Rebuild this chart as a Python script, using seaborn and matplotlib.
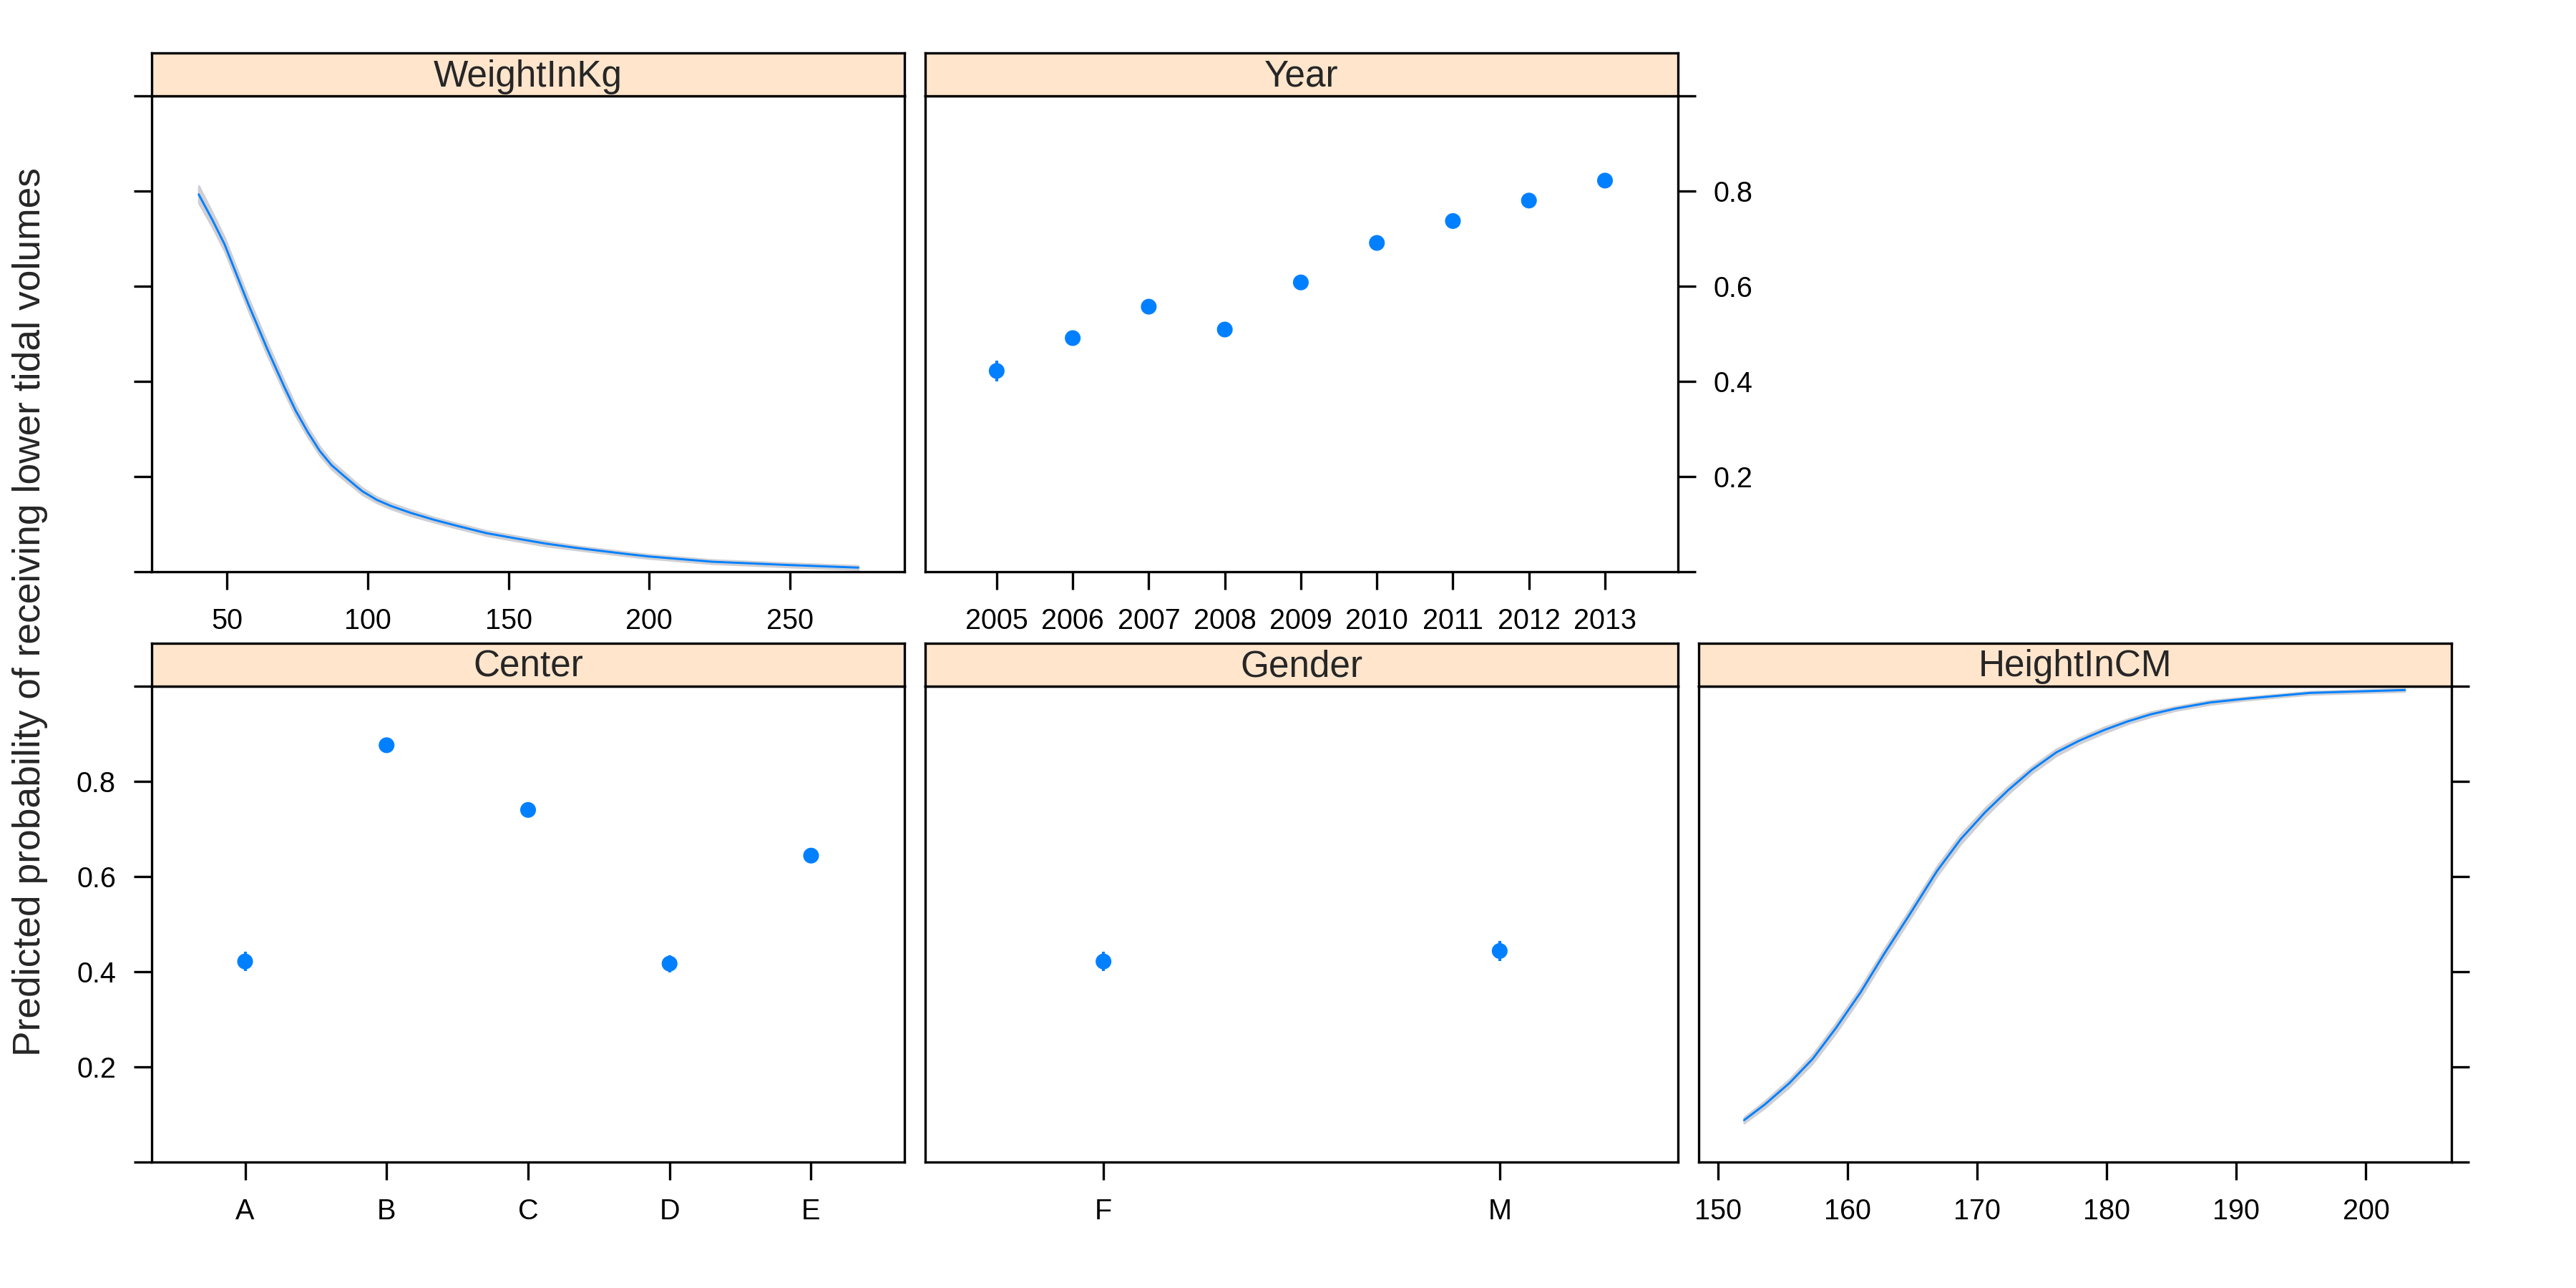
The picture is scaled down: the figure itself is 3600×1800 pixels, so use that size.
import numpy as np
import pandas as pd
import matplotlib
matplotlib.use("Agg")
import matplotlib.pyplot as plt
import seaborn as sns

# ---------------- data ----------------
weight_kg = [39.9, 44.8, 49.1, 53.4, 57.7, 60.0, 64.2, 70.2, 74.4, 78.6, 82.9, 87.1,
             91.4, 95.6, 98.1, 103.2, 108.3, 115.1, 123.6, 132.0, 142.2, 152.6,
             163.4, 174.2, 192.3, 200.0, 222.4, 250.0, 274.3]
weight_prob = [0.793, 0.739, 0.688, 0.624, 0.560, 0.528, 0.469, 0.390, 0.338, 0.294,
               0.254, 0.224, 0.202, 0.181, 0.169, 0.151, 0.138, 0.124, 0.109, 0.096,
               0.081, 0.070, 0.059, 0.050, 0.037, 0.032, 0.021, 0.014, 0.0086]
weight_lo = [0.775, 0.724, 0.674, 0.611, 0.547, 0.515, 0.456, 0.378, 0.327, 0.284,
             0.245, 0.216, 0.194, 0.174, 0.162, 0.145, 0.132, 0.118, 0.104, 0.091,
             0.076, 0.065, 0.054, 0.046, 0.033, 0.028, 0.017, 0.010, 0.0046]
weight_hi = [0.811, 0.754, 0.702, 0.637, 0.573, 0.541, 0.482, 0.402, 0.349, 0.304,
             0.263, 0.232, 0.210, 0.188, 0.176, 0.157, 0.144, 0.130, 0.114, 0.101,
             0.086, 0.075, 0.064, 0.054, 0.041, 0.036, 0.025, 0.018, 0.0126]

years = [2005, 2006, 2007, 2008, 2009, 2010, 2011, 2012, 2013]
year_prob = [0.422, 0.491, 0.557, 0.509, 0.608, 0.691, 0.737, 0.780, 0.822]
year_lo = [0.400, 0.479, 0.546, 0.498, 0.598, 0.681, 0.727, 0.770, 0.812]
year_hi = [0.444, 0.503, 0.568, 0.520, 0.618, 0.701, 0.747, 0.790, 0.832]

centers = ["A", "B", "C", "D", "E"]
center_prob = [0.4215, 0.876, 0.740, 0.417, 0.644]
center_lo = [0.401, 0.866, 0.728, 0.399, 0.629]
center_hi = [0.442, 0.886, 0.752, 0.435, 0.659]

genders = ["F", "M"]
gender_prob = [0.4215, 0.4436]
gender_lo = [0.401, 0.422]
gender_hi = [0.442, 0.465]

height_cm = [152.0, 153.6, 155.5, 157.3, 159.1, 161.0, 162.8, 164.7, 166.9, 168.7,
             170.6, 172.4, 174.2, 176.1, 177.9, 179.8, 181.6, 183.4, 185.3, 188.0,
             190.8, 195.7, 203.0]
height_prob = [0.088, 0.121, 0.166, 0.217, 0.282, 0.357, 0.437, 0.517, 0.612, 0.678,
               0.735, 0.782, 0.824, 0.861, 0.886, 0.908, 0.926, 0.941, 0.953, 0.966,
               0.974, 0.986, 0.992]
height_lo = [0.082, 0.114, 0.158, 0.208, 0.272, 0.347, 0.427, 0.507, 0.602, 0.668,
             0.726, 0.774, 0.817, 0.854, 0.880, 0.902, 0.921, 0.936, 0.949, 0.962,
             0.971, 0.983, 0.989]
height_hi = [0.094, 0.128, 0.174, 0.226, 0.292, 0.367, 0.447, 0.527, 0.622, 0.688,
             0.744, 0.790, 0.831, 0.868, 0.892, 0.914, 0.931, 0.946, 0.957, 0.970,
             0.977, 0.989, 0.995]

y_ticks = [0.0, 0.2, 0.4, 0.6, 0.8, 1.0]
y_ticklabels = ["", "0.2", "0.4", "0.6", "0.8", ""]
weight_ticks = [50, 100, 150, 200, 250]
height_ticks = [150, 160, 170, 180, 190, 200]

ylabel_text = "Predicted probability of receiving lower tidal volumes"

# ---------------- style ----------------
sns.set_style("white")
plt.rcParams["font.family"] = ["Liberation Sans", "DejaVu Sans"]

BLUE = "#0080FF"
BAND = "#CFCFD4"
STRIP = "#FFE5CC"
LW_FRAME = 0.8

fig = plt.figure(figsize=(12, 6), dpi=300)

W = 1052 / 3600
H = 665 / 1800
SH = 60 / 1800
lefts = [212 / 3600, 1293 / 3600, 2374 / 3600]
bottoms = [1 - 799 / 1800, 1 - 1624 / 1800]


def make_panel(col, row, title):
    ax = fig.add_axes([lefts[col], bottoms[row], W, H])
    sax = fig.add_axes([lefts[col], bottoms[row] + H, W, SH])
    sax.set_facecolor(STRIP)
    sax.set_xticks([])
    sax.set_yticks([])
    for sp in sax.spines.values():
        sp.set_color("black")
        sp.set_linewidth(LW_FRAME)
    sax.text(0.5, 0.45, title, ha="center", va="center", fontsize=12.3,
             transform=sax.transAxes)
    for sp in ax.spines.values():
        sp.set_color("black")
        sp.set_linewidth(LW_FRAME)
    ax.set_ylim(0, 1)
    ax.set_yticks(y_ticks)
    ax.set_yticklabels(y_ticklabels)
    ax.tick_params(axis="both", direction="out", length=6, width=LW_FRAME,
                   labelsize=9.5, pad=6, color="black", labelcolor="black")
    ax.tick_params(axis="x", top=False, bottom=True)
    return ax


def curve(ax, x, y, lo, hi):
    ax.fill_between(x, lo, hi, color=BAND, lw=0.7, edgecolor=BAND, zorder=1)
    sns.lineplot(x=x, y=y, ax=ax, color=BLUE, lw=0.7, estimator=None,
                 sort=False, zorder=2)


def points(ax, pos, y, lo, hi):
    ax.vlines(pos, lo, hi, color=BLUE, lw=1.0, zorder=2)
    sns.scatterplot(x=pos, y=y, ax=ax, color=BLUE, s=28, edgecolor="none",
                    zorder=3, legend=False)


# WeightInKg
ax1 = make_panel(0, 0, "WeightInKg")
curve(ax1, weight_kg, weight_prob, weight_lo, weight_hi)
ax1.set_xlim(23.2, 290.7)
ax1.set_xticks(weight_ticks)
ax1.set_xticklabels([str(t) for t in weight_ticks])
ax1.tick_params(axis="y", left=True, right=False, labelleft=False, labelright=False)

# Year
ax2 = make_panel(1, 0, "Year")
points(ax2, years, year_prob, year_lo, year_hi)
ax2.set_xlim(2004.06, 2013.96)
ax2.set_xticks(years)
ax2.set_xticklabels([str(y) for y in years])
ax2.tick_params(axis="y", left=False, right=True, labelleft=False, labelright=True)

# Center
ax3 = make_panel(0, 1, "Center")
cpos = list(range(len(centers)))
points(ax3, cpos, center_prob, center_lo, center_hi)
ax3.set_xlim(-0.66, len(centers) - 1 + 0.66)
ax3.set_xticks(cpos)
ax3.set_xticklabels(centers)
ax3.tick_params(axis="y", left=True, right=False, labelleft=True, labelright=False)

# Gender
ax4 = make_panel(1, 1, "Gender")
gpos = list(range(len(genders)))
points(ax4, gpos, gender_prob, gender_lo, gender_hi)
ax4.set_xlim(-0.45, len(genders) - 1 + 0.45)
ax4.set_xticks(gpos)
ax4.set_xticklabels(genders)
ax4.tick_params(axis="y", left=False, right=False, labelleft=False, labelright=False)

# HeightInCM
ax5 = make_panel(2, 1, "HeightInCM")
curve(ax5, height_cm, height_prob, height_lo, height_hi)
ax5.set_xlim(148.5, 206.6)
ax5.set_xticks(height_ticks)
ax5.set_xticklabels([str(t) for t in height_ticks])
ax5.tick_params(axis="y", left=False, right=True, labelleft=False, labelright=False)

for a in (ax1, ax2, ax3, ax4, ax5):
    a.set_ylim(0, 1)
    a.set_xlabel("")
    a.set_ylabel("")

fig.text(42 / 3600, 1 - 855 / 1800, ylabel_text, rotation=90, ha="center",
         va="center", fontsize=12.8)

fig.savefig("out.png", dpi=300, facecolor="white")
